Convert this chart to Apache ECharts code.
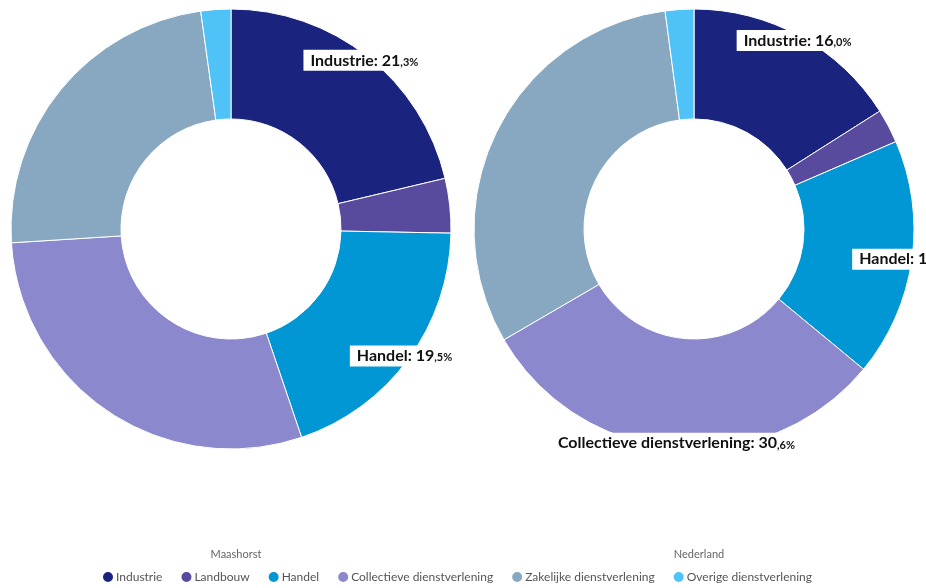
<!DOCTYPE html>
<html>
<head>
<meta charset="utf-8">
<script src="https://cdn.jsdelivr.net/npm/echarts@6/dist/echarts.min.js"></script>
<style>
  html, body { margin: 0; padding: 0; background: #fff; }
  #chart { width: 926px; height: 588px; }
</style>
</head>
<body>
<div id="chart"></div>
<script>
// Sector breakdown of employment, two regions
const categories = ['Industrie', 'Landbouw', 'Handel', 'Collectieve dienstverlening', 'Zakelijke dienstverlening', 'Overige dienstverlening'];
const colors = ['#1a237e', '#584a9c', '#0097d4', '#8b88cd', '#87a8c0', '#4fc3f7'];
const regions = ['Maashorst', 'Nederland'];
const maashorst = [21.3, 4.0, 19.5, 29.2, 23.8, 2.2];
const nederland = [16.0, 2.5, 17.5, 30.6, 31.3, 2.1];
const labelledMaashorst = ['Industrie', 'Handel'];
const labelledNederland = ['Industrie', 'Handel', 'Collectieve dienstverlening'];

const FONT = 'Lato, "Noto Sans", sans-serif';
const centers = [[231, 229], [694, 229]];

function toData(values) {
  return categories.map((name, i) => ({ name, value: values[i] }));
}

function labelText(p) {
  const parts = p.value.toFixed(1).split('.');
  return '{b|' + p.name + ': ' + parts[0] + '}{s|,' + parts[1] + '%}';
}

function ringSeries(name, values, center) {
  return {
    name: name,
    type: 'pie',
    center: center,
    radius: [110, 220],
    startAngle: 90,
    clockwise: true,
    avoidLabelOverlap: false,
    label: { show: false },
    labelLine: { show: false },
    itemStyle: { borderColor: '#ffffff', borderWidth: 1 },
    emphasis: { scale: false },
    data: toData(values)
  };
}

// thin transparent ring whose "inside" label spot sits near the outer edge
function labelSeries(name, values, center, labelled) {
  return {
    name: name + '-labels',
    type: 'pie',
    center: center,
    radius: [204, 220],
    startAngle: 90,
    clockwise: true,
    silent: true,
    avoidLabelOverlap: false,
    labelLine: { show: false },
    itemStyle: { color: 'rgba(0,0,0,0)' },
    emphasis: { disabled: true },
    data: toData(values).map(d => ({
      name: d.name,
      value: d.value,
      label: {
        show: labelled.indexOf(d.name) >= 0,
        position: 'inside',
        formatter: labelText,
        backgroundColor: '#ffffff',
        padding: [1, 7, 1, 7],
        rich: {
          b: { fontFamily: FONT, fontSize: 16, fontWeight: 'bold', color: '#111111', lineHeight: 19 },
          s: { fontFamily: FONT, fontSize: 11, fontWeight: 'bold', color: '#111111', lineHeight: 19,
               verticalAlign: 'bottom', padding: [0, 0, 2, 0] }
        }
      }
    }))
  };
}

const chart = echarts.init(document.getElementById('chart'), null, { renderer: 'canvas' });
chart.setOption({
  animation: false,
  color: colors,
  title: [
    { text: regions[0], left: centers[0][0], top: 544, textAlign: 'center',
      textStyle: { fontFamily: FONT, fontSize: 11, fontWeight: 'normal', color: '#666666' } },
    { text: regions[1], left: centers[1][0], top: 544, textAlign: 'center',
      textStyle: { fontFamily: FONT, fontSize: 11, fontWeight: 'normal', color: '#666666' } }
  ],
  legend: {
    data: categories,
    bottom: -1,
    left: 96,
    icon: 'circle',
    itemWidth: 12,
    itemHeight: 12,
    itemGap: 17,
    textStyle: { fontFamily: FONT, fontSize: 12, color: '#555555', padding: [0, 0, 0, -3] }
  },
  series: [
    ringSeries(regions[0], maashorst, centers[0]),
    ringSeries(regions[1], nederland, centers[1]),
    labelSeries(regions[0], maashorst, centers[0], labelledMaashorst),
    labelSeries(regions[1], nederland, centers[1], labelledNederland)
  ]
});
</script>
</body>
</html>
